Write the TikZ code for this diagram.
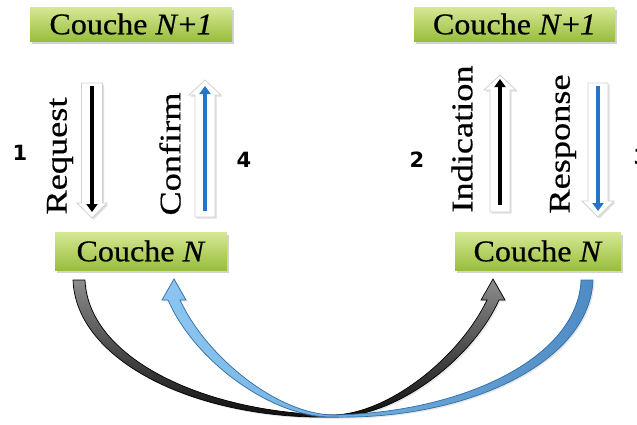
\documentclass[tikz,border=0pt]{standalone}
\usepackage{fontspec}
\setmainfont{Liberation Serif}[FakeBold=0.5,ItalicFeatures={FakeBold=0.5}]
\newfontfamily\numfont{DejaVu Sans}
\usetikzlibrary{arrows.meta,shadows}
\definecolor{boxtop}{RGB}{214,232,150}
\definecolor{boxbot}{RGB}{152,190,60}
\definecolor{lineblue}{RGB}{38,116,200}
\definecolor{bandblueL}{RGB}{140,198,240}
\definecolor{bandblueR}{RGB}{80,140,196}
\definecolor{bandblueD}{RGB}{45,110,170}
\tikzset{
  layerbox/.style={top color=boxtop,bottom color=boxbot,draw=none,inner sep=0pt,
    drop shadow={shadow xshift=2pt,shadow yshift=-3pt,opacity=.35},
    font=\fontsize{30}{34}\selectfont},
  vlabel/.style={rotate=90,inner sep=0pt,font=\fontsize{30}{34}\selectfont},
  numlabel/.style={inner sep=0pt,font=\numfont\bfseries\fontsize{21}{24}\selectfont},
  hollow/.style={fill=white,draw=black!18,line width=0.8pt,
    drop shadow={shadow xshift=1.5pt,shadow yshift=-1.5pt,opacity=.25}},
  innerline/.style={line width=4.5pt,-{Triangle[width=11pt,length=8pt]}},
}
\begin{document}
\begin{tikzpicture}[x=1pt,y=-1pt]
\useasboundingbox (0,0) rectangle (637,424);

% layer boxes
\node[layerbox,minimum width=202pt,minimum height=34pt] (tl) at (131,24) {\scalebox{1.07}[1]{Couche \textit{N}+\textit{1}}};
\node[layerbox,minimum width=201pt,minimum height=34pt] (tr) at (514.5,24) {\scalebox{1.07}[1]{Couche \textit{N}+\textit{1}}};
\node[layerbox,minimum width=172pt,minimum height=38pt] (bl) at (141,251) {\scalebox{1.07}[1]{Couche \textit{N}}};
\node[layerbox,minimum width=166pt,minimum height=38pt] (br) at (538,251) {\scalebox{1.07}[1]{Couche \textit{N}}};

% Request (down, black)
\path[hollow] (81.5,83) -- (102.5,83) -- (102.5,203) -- (107,203) -- (92,218) -- (77,203) -- (81.5,203) -- cycle;
\coordinate (reqa) at (92,86); \coordinate (reqb) at (92,212);
\draw[innerline,black] (reqa) -- (reqb);
% Confirm (up, blue)
\path[hollow] (195,217) -- (215,217) -- (215,95) -- (221,95) -- (205,80) -- (189,95) -- (195,95) -- cycle;
\coordinate (cona) at (205,211); \coordinate (conb) at (205,86);
\draw[innerline,lineblue] (cona) -- (conb);
% Indication (up, black)
\path[hollow] (490,212) -- (510,212) -- (510,90) -- (516,90) -- (500,75) -- (484,90) -- (490,90) -- cycle;
\coordinate (inda) at (500,205); \coordinate (indb) at (500,79);
\draw[innerline,black] (inda) -- (indb);
% Response (down, blue)
\path[hollow] (588,83) -- (608,83) -- (608,201) -- (614,201) -- (598,217) -- (582,201) -- (588,201) -- cycle;
\coordinate (resa) at (598,86); \coordinate (resb) at (598,211);
\draw[innerline,lineblue] (resa) -- (resb);

% rotated labels
\node[vlabel] (lreq) at (60,156) {\scalebox{1.21}[1]{Request}};
\node[vlabel] (lcon) at (170,154) {\scalebox{1.21}[1]{Confirm}};
\node[vlabel] (lind) at (462,139) {\scalebox{1.21}[1]{Indication}};
\node[vlabel] (lres) at (563,144) {\scalebox{1.21}[1]{Response}};

% numbers
\node[numlabel] (n1) at (20,153) {1};
\node[numlabel] (n4) at (244,160) {4};
\node[numlabel] (n2) at (417,160) {2};
\node[numlabel] (n3) at (641,157) {3};

% curved band arrows
\path[top color=black!45,bottom color=black!95,draw=black,line width=0.7pt,
      drop shadow={shadow xshift=1.5pt,shadow yshift=-1.5pt,opacity=.2}]
  (73,280) .. controls (76,362) and (198,420) .. (333,417)
  .. controls (393,418) and (471,362) .. (499,300)
  -- (505,300) -- (493,279) -- (481,300) -- (487,300)
  .. controls (459,358) and (388,414) .. (333,415)
  .. controls (204,413) and (88,358) .. (85,280) -- cycle;
\path[left color=bandblueL,right color=bandblueR,draw=bandblueD,line width=0.7pt,
      drop shadow={shadow xshift=1.5pt,shadow yshift=-1.5pt,opacity=.2}]
  (593,280) .. controls (590,362) and (468,420) .. (333,417)
  .. controls (273,418) and (195,362) .. (168,300)
  -- (162,300) -- (174,279) -- (186,300) -- (180,300)
  .. controls (207,358) and (278,414) .. (333,415)
  .. controls (462,413) and (578,358) .. (581,280) -- cycle;
\end{tikzpicture}
\end{document}
